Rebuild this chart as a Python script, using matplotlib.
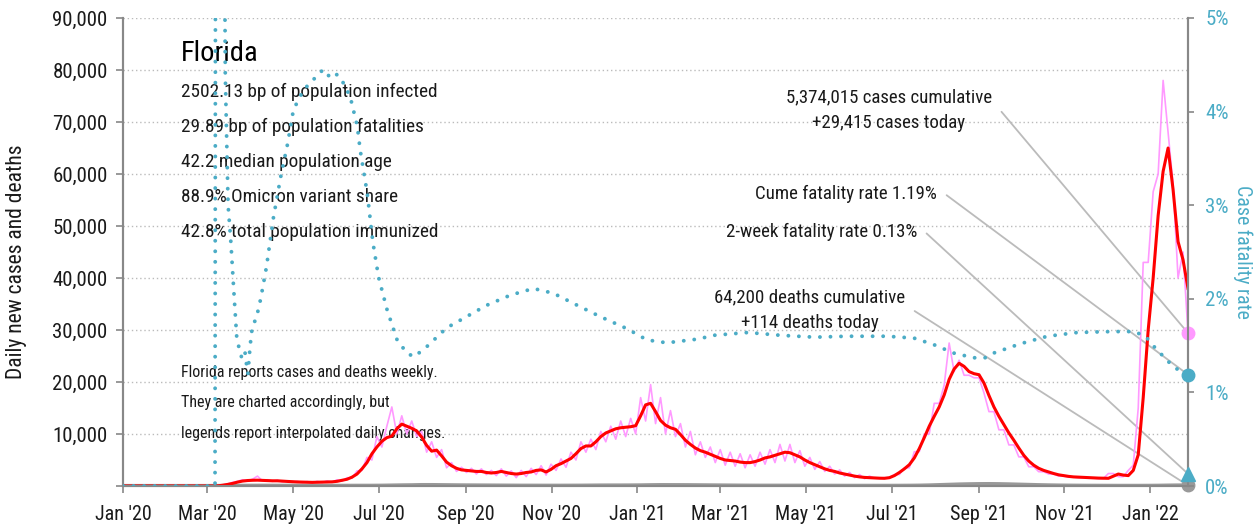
import matplotlib
matplotlib.use("Agg")
import matplotlib.pyplot as plt
import matplotlib.dates as mdates
from matplotlib.ticker import FuncFormatter, MultipleLocator
import pandas as pd

plt.rcParams['font.family'] = ['Roboto Condensed', 'Open Sans Condensed', 'DejaVu Sans']
plt.rcParams['font.stretch'] = 'condensed'

# ---------------- data ----------------
start_date = "2020-01-01"
end_date = "2022-01-28"
case_dates = pd.date_range(end=end_date, periods=215, freq="85h")

cases_raw = [0]*19 + [
    50, 200, 400, 700, 900, 1200, 1000, 1300, 1900, 1000, 1200, 900, 1100, 800, 1000, 700,
    900, 650, 850, 600, 900, 650, 1000, 700, 1200, 900, 1600, 1500, 2900, 3000, 5500, 5000,
    9500, 7500, 11500, 15200, 10000, 13500, 10000, 12500, 9500, 10500, 6500, 8500, 5500, 7000,
    3500, 4500, 2800, 3600, 2600, 3400, 2300, 3300, 2200, 3000, 2000, 3300, 1900, 2900, 1600,
    3000, 1800, 3400, 2200, 3900, 2100, 4200, 3000, 5200, 3600, 6500, 5000, 8500, 6500, 9000,
    7000, 10500, 8500, 11500, 9000, 12500, 9500, 13000, 10000, 17000, 12500, 19500, 12000,
    17000, 10000, 14500, 9500, 12000, 7500, 10500, 6000, 8500, 5500, 7500, 4500, 7000, 4000,
    6500, 3800, 6200, 3500, 6000, 3800, 6500, 4200, 7000, 4500, 8000, 4800, 8000, 4500, 6800,
    3800, 5500, 3200, 4700, 2800, 3800, 2300, 3100, 1900, 2600, 1600, 2200, 1400, 1900,
    1500, 1500, 1600, 1600, 2200, 2200, 3500, 3500, 6600, 6600, 10000, 10000, 15900, 15900,
    19400, 27500, 22000, 24200, 21300, 21300, 20800, 20800, 17900, 14300, 14300, 10800, 10800,
    7900, 7900, 5600, 5600, 3700, 3700, 2750, 2750, 2300, 2300, 1900, 1900, 1700, 1700, 1600,
    1600, 1500, 1500, 1450, 1450, 2400, 2400, 1800, 1800, 3000, 4000, 15000, 43000, 43000,
    56600, 60000, 78000, 68000, 58000, 40000, 45000, 29415]

cases_avg = [0]*19 + [
    30, 150, 300, 500, 750, 950, 1050, 1100, 1120, 1080, 1050, 1000, 1000, 950, 880, 820,
    780, 750, 720, 700, 720, 750, 780, 800, 900, 1100, 1300, 1700, 2300, 3300, 4500, 6200,
    7500, 8600, 9300, 9600, 11000, 11900, 11500, 11100, 10600, 9400, 7800, 6700, 6900, 5800,
    4600, 3900, 3400, 3100, 3000, 2900, 2800, 2800, 2600, 2500, 2600, 2800, 2600, 2400, 2300,
    2400, 2600, 2700, 3000, 3100, 2700, 3200, 3900, 4300, 4800, 5300, 6200, 7200, 7700, 7700,
    8500, 9500, 10200, 10600, 11000, 11200, 11300, 11400, 11600, 13500, 15600, 15900, 14300,
    12600, 11700, 11200, 10900, 9900, 8800, 8000, 7300, 6800, 6500, 6100, 5700, 5300, 5000,
    4900, 4800, 4600, 4500, 4500, 4700, 5000, 5400, 5600, 5900, 6200, 6500, 6400, 6000, 5600,
    5000, 4500, 4100, 3700, 3300, 3000, 2800, 2500, 2300, 2100, 1900, 1750, 1650, 1600,
    1550, 1500, 1480, 1600, 2000, 2600, 3300, 4100, 5400, 7200, 9300, 11500, 13400, 15200,
    17500, 20500, 22500, 23600, 23000, 22000, 21600, 21400, 19800, 17400, 15200, 13400, 11800,
    10200, 8800, 7300, 5900, 4800, 4000, 3400, 3000, 2700, 2400, 2150, 2000, 1850, 1750, 1700,
    1650, 1600, 1550, 1520, 1500, 1480, 1900, 2300, 2100, 2000, 3000, 6000, 17000, 30000,
    40000, 52000, 60500, 65000, 57000, 47000, 43500, 38000]

death_dates = pd.date_range(end=end_date, periods=108, freq="170h")
deaths = [0]*10 + [
    5, 20, 40, 50, 55, 50, 45, 45, 40, 40, 35, 35, 35, 40, 45, 45, 60, 90, 120, 140, 180, 180,
    160, 140, 120, 110, 100, 90, 80, 70, 60, 60, 55, 55, 55, 60, 65, 80, 95, 100, 100, 105,
    120, 150, 170, 165, 160, 150, 135, 120, 105, 90, 75, 65, 60, 60, 60, 60, 60, 55, 50, 45,
    40, 35, 35, 35, 35, 35, 40, 50, 70, 110, 170, 230, 290, 330, 360, 370, 350, 310, 260, 210,
    160, 120, 90, 70, 55, 45, 40, 35, 30, 30, 30, 35, 50, 80, 100, 114]

# case fatality rate (%), days after 2020-01-01
cfr_days = [0, 65.5, 66, 71.3, 72.8, 74.8, 76.8, 78.8, 80.9, 82.9, 84.9, 86.9, 87.9, 88.9, 90.5,
            92, 95, 98, 102.1, 107.1, 112.2, 117.2, 121.3, 128.4, 135.4, 142.5, 146.6, 149.6,
            154.6, 161.7, 166.8, 168.8, 173.8, 177.9, 181.9, 188, 195.1, 202.1, 207.2, 216.3,
            230.4, 244.6, 258.7, 275.9, 292.1, 306.2, 323.4, 339.6, 358.8, 373, 387.1, 409.3,
            420.5, 444.7, 468, 492.2, 515.5, 543.8, 563, 577.1, 591.3, 605.4, 613.5, 619.6,
            638.8, 658, 679.2, 703.4, 719.6, 727.7, 733.8, 743.9, 751, 758]
cfr_pct = [0, 0, 9, 9, 4.4, 3.0, 2.6, 2.1, 1.6, 1.45, 1.35, 1.42, 1.3, 1.2, 1.5, 1.7, 1.8, 2.0,
           2.34, 2.87, 3.3, 3.66, 4.02, 4.23, 4.34, 4.45, 4.38, 4.42, 4.37, 4.16, 3.84, 3.59,
           3.13, 2.6, 2.23, 1.88, 1.56, 1.42, 1.38, 1.49, 1.69, 1.81, 1.93, 2.04, 2.11, 2.06,
           1.93, 1.81, 1.68, 1.56, 1.53, 1.57, 1.61, 1.64, 1.61, 1.59, 1.60, 1.60, 1.58, 1.51,
           1.42, 1.37, 1.37, 1.42, 1.52, 1.60, 1.64, 1.65, 1.65, 1.60, 1.49, 1.33, 1.24, 1.19]
cfr_dates = [pd.Timestamp(start_date) + pd.Timedelta(days=d) for d in cfr_days]

two_week_cfr = 0.13
cases_today = 29415
deaths_today = 114
cume_cfr = 1.19

title = "Florida"
stats = ["2502.13 bp of population infected",
         "29.89 bp of population fatalities",
         "42.2 median population age",
         "88.9% Omicron variant share",
         "42.8% total population immunized"]
notes = ["Florida reports cases and deaths weekly.",
         "They are charted accordingly, but",
         "legends report interpolated daily changes."]
annotations = ["5,374,015 cases cumulative\n+29,415 cases today",
               "Cume fatality rate 1.19%",
               "2-week fatality rate 0.13%",
               "64,200 deaths cumulative\n+114 deaths today"]

# ---------------- style ----------------
PINK = "#FF99FF"
RED = "#FF0000"
TEAL = "#4BACC6"
GRAY = "#999999"
SPINE = "#888888"
TXT = "#1a1a1a"

W, H = 1260, 525
fig = plt.figure(figsize=(W/100, H/100), dpi=100)
ax = fig.add_axes([123/W, 1-486/H, (1188-123)/W, (486-18)/H])
ax2 = ax.twinx()

def fx(x):
    return x / W

def fy(y):
    return 1 - y / H

end_ts = pd.Timestamp(end_date)

ax.plot(case_dates, cases_raw, color=PINK, lw=1.2, zorder=2)
ax.plot(case_dates, cases_avg, color=RED, lw=2.2, zorder=3)
ax.plot(death_dates, deaths, color=GRAY, lw=3, zorder=2.5, solid_capstyle='butt')

ax2.plot(cfr_dates, cfr_pct, color=TEAL, lw=2.8, linestyle=(0, (0.01, 2.7)),
         dash_capstyle='round', zorder=3)

# end markers
ax.plot([end_ts], [cases_today], 'o', color=PINK, ms=9, clip_on=False, zorder=5)
ax.plot([end_ts], [deaths_today], 'o', color=GRAY, ms=9, clip_on=False, zorder=5)
ax2.plot([end_ts], [cume_cfr], 'o', color=TEAL, ms=9, clip_on=False, zorder=5)
ax2.plot([end_ts], [two_week_cfr], '^', color=TEAL, ms=10, clip_on=False, zorder=5)

# axes
ax.set_xlim(pd.Timestamp(start_date), end_ts)
ax.set_ylim(0, 90000)
ax2.set_ylim(0, 5)
ax.yaxis.set_major_locator(MultipleLocator(10000))
ax.yaxis.set_major_formatter(FuncFormatter(lambda v, p: f"{int(v):,}" if v > 0 else ""))
ax2.yaxis.set_major_locator(MultipleLocator(1))
ax2.yaxis.set_major_formatter(FuncFormatter(lambda v, p: f"{int(round(v))}%"))
ax.xaxis.set_major_locator(mdates.MonthLocator(bymonth=[1, 3, 5, 7, 9, 11]))
ax.xaxis.set_major_formatter(mdates.DateFormatter("%b '%y"))

for a in (ax, ax2):
    a.spines['top'].set_visible(False)
    for s in ('left', 'right', 'bottom'):
        a.spines[s].set_color(SPINE)
        a.spines[s].set_linewidth(1.5)
ax.grid(axis='y', color='#BBBBBB', linestyle=(0, (1, 2)), lw=1)
ax.set_axisbelow(True)
ax.tick_params(axis='y', colors=SPINE, labelcolor=TXT, labelsize=15, length=5, width=1.2, pad=6)
ax.tick_params(axis='x', colors=SPINE, labelcolor=TXT, labelsize=14.5, length=5, width=1.2, pad=8.5)
ax2.tick_params(axis='y', colors=SPINE, labelcolor=TEAL, labelsize=15, length=4.5, width=1.2, pad=8)

ax.set_ylabel("Daily new cases and deaths", fontsize=15.5, color=TXT)
ax.yaxis.set_label_coords((17-123)/(1188-123), 0.479)
ax.yaxis.label.set_va('center')
ax2.set_ylabel("Case fatality rate", fontsize=14.3, color=TEAL, rotation=270)
ax2.yaxis.set_label_coords((1243-123)/(1188-123), 0.5)
ax2.yaxis.label.set_va('center')

# text block (in ax so that ax2 lines draw on top)
ax.text(fx(181), fy(61), title, transform=fig.transFigure, fontsize=20.5, color='black',
        va='baseline', ha='left', zorder=1)
for i, s in enumerate(stats):
    ax.text(fx(181), fy(97 + 35*i), s, transform=fig.transFigure, fontsize=13.9, color=TXT,
            va='baseline', ha='left', zorder=1)
for i, s in enumerate(notes):
    ax.text(fx(181), fy(377 + 30.5*i), s, transform=fig.transFigure, fontsize=11.5, color=TXT,
            va='baseline', ha='left', zorder=1)

# annotations
ann = [
    (annotations[0], ax, cases_today, 992, 110),
    (annotations[1], ax2, cume_cfr, 937, 194),
    (annotations[2], ax2, two_week_cfr, 917, 232),
    (annotations[3], ax, deaths_today, 905, 310),
]
for txt, a, val, xr, yc in ann:
    ax.annotate(txt, xy=(mdates.date2num(end_ts), val), xycoords=a.transData,
                xytext=(fx(xr), fy(yc)), textcoords='figure fraction',
                ha='right', va='center', multialignment='center', fontsize=13.6, color=TXT,
                linespacing=1.55, zorder=1, annotation_clip=False,
                arrowprops=dict(arrowstyle='-', color='#BBBBBB', lw=1.3, shrinkA=5, shrinkB=0,
                                relpos=(1, 0.5),
                                connectionstyle='arc,angleA=0,armA=8,rad=0'))

fig.savefig("out.png", dpi=100)
